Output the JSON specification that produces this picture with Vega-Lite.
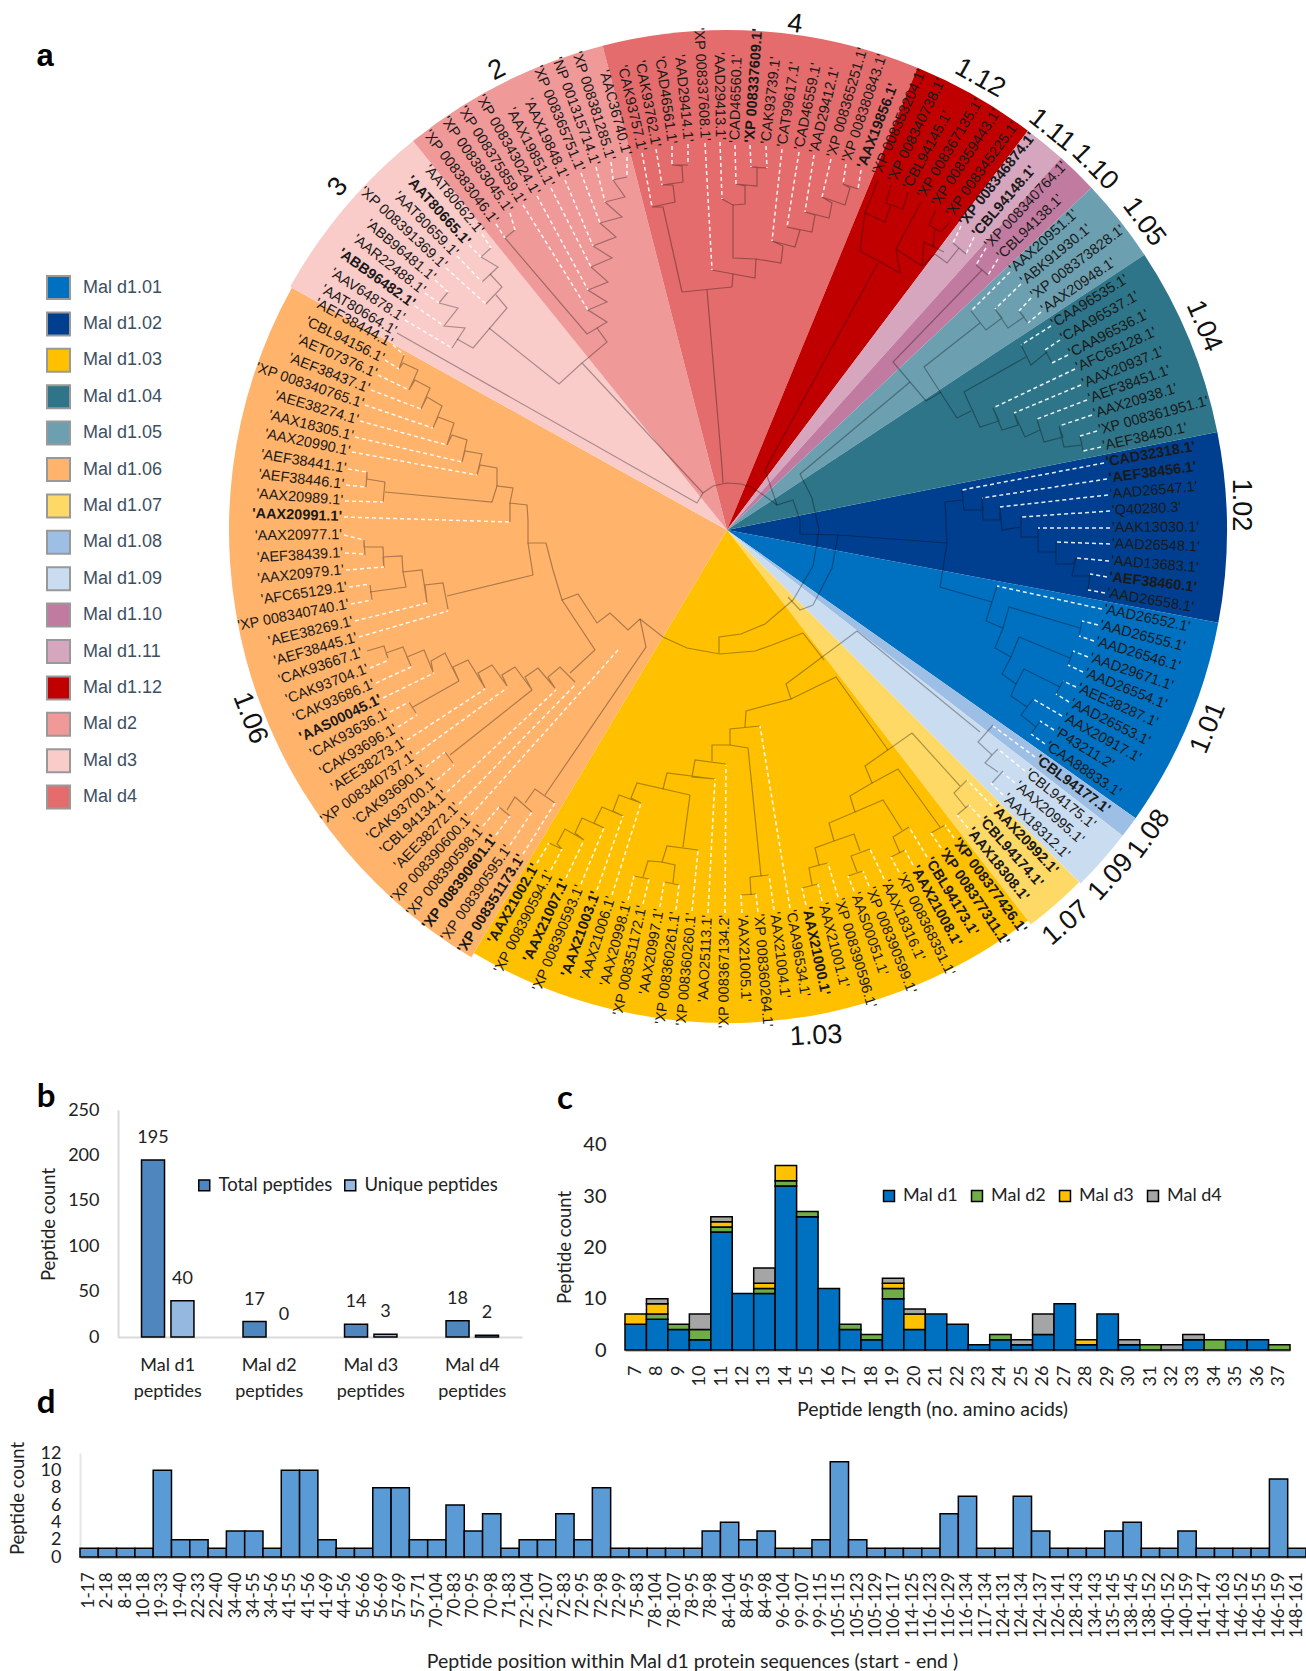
{"$schema":"https://vega.github.io/schema/vega-lite/v6.json","padding":0,"background":"white","config":{"view":{"stroke":null},"font":"Lato"},
"datasets":{
"wedges":[{"w":"Mal d1.02","x":727,"y":530,"a":78.7,"c":100.7,"r":500},{"w":"Mal d1.01","x":727,"y":530,"a":100.7,"c":125.2,"r":500},{"w":"Mal d1.08","x":727,"y":530,"a":125.2,"c":127.7,"r":500},{"w":"Mal d1.09","x":727,"y":530,"a":127.7,"c":135,"r":500},{"w":"Mal d1.07","x":727,"y":530,"a":135,"c":142.4,"r":498},{"w":"Mal d1.03","x":727,"y":530,"a":142.4,"c":210.9,"r":493},{"w":"Mal d1.06","x":727,"y":530,"a":210.9,"c":299.1,"r":498},{"w":"Mal d3","x":727,"y":530,"a":299.1,"c":321.1,"r":500},{"w":"Mal d2","x":727,"y":530,"a":321.1,"c":345.6,"r":500},{"w":"Mal d4","x":727,"y":530,"a":-14.4,"c":22.4,"r":500},{"w":"Mal d1.12","x":727,"y":530,"a":22.4,"c":37,"r":500},{"w":"Mal d1.11","x":727,"y":530,"a":37,"c":41.9,"r":500},{"w":"Mal d1.10","x":727,"y":530,"a":41.9,"c":46.8,"r":500},{"w":"Mal d1.05","x":727,"y":530,"a":46.8,"c":56.6,"r":500},{"w":"Mal d1.04","x":727,"y":530,"a":56.6,"c":78.7,"r":500}],
"leaves":[
{"n":"'CAD32318.1'","b":1,"t":79.9,"x":1104,"y":463,"tx":962,"ty":490},{"n":"'AEF38456.1'","b":1,"t":82.3,"x":1107,"y":479,"tx":982,"ty":498},{"n":"'AAD26547.1'","t":84.8,"x":1108,"y":495,"tx":1000,"ty":507},{"n":"'Q40280.3'","t":87.2,"x":1110,"y":511,"tx":1021,"ty":517},{"n":"'AAK13030.1'","t":89.7,"x":1110,"y":528,"tx":1038,"ty":528},{"n":"'AAD26548.1'","t":92.1,"x":1110,"y":544,"tx":1056,"ty":542},{"n":"'AAD13683.1'","t":94.6,"x":1109,"y":561,"tx":1076,"ty":558},{"n":"'AEF38460.1'","b":1,"t":97,"x":1107,"y":577,"tx":1090,"ty":574},{"n":"'AAD26558.1'","t":99.5,"x":1105,"y":593,"tx":1088,"ty":590},
{"n":"'AAD26552.1'","t":101.9,"x":1102,"y":609,"tx":997,"ty":586},{"n":"'AAD26555.1'","t":104.4,"x":1098,"y":625,"tx":1082,"ty":621},{"n":"'AAD26546.1'","t":106.8,"x":1094,"y":641,"tx":1079,"ty":636},{"n":"'AAD29671.1'","t":109.3,"x":1088,"y":657,"tx":1073,"ty":651},{"n":"'AAD26554.1'","t":111.7,"x":1083,"y":672,"tx":1068,"ty":665},{"n":"'AEE38287.1'","t":114.2,"x":1076,"y":687,"tx":1063,"ty":681},{"n":"'AAD26553.1'","t":116.6,"x":1069,"y":702,"tx":1056,"ty":694},{"n":"'AAX20917.1'","t":119,"x":1062,"y":716,"tx":1033,"ty":699},{"n":"'P43211.2'","t":121.5,"x":1054,"y":730,"tx":1040,"ty":721},{"n":"'CAA88833.1'","t":123.9,"x":1045,"y":744,"tx":1031,"ty":734},
{"n":"'CBL94177.1'","b":1,"t":126.4,"x":1035,"y":757,"tx":993,"ty":726},{"n":"'CBL94175.1'","t":128.9,"x":1025,"y":771,"tx":998,"ty":749},{"n":"'AAX20995.1'","t":131.3,"x":1015,"y":783,"tx":1003,"ty":773},{"n":"'AAX18312.1'","t":133.8,"x":1003,"y":795,"tx":991,"ty":783},
{"n":"'AAX20992.1'","b":1,"t":136.2,"x":992,"y":806,"tx":967,"ty":780},{"n":"'CBL94174.1'","b":1,"t":138.6,"x":980,"y":817,"tx":969,"ty":805},{"n":"'AAX18308.1'","b":1,"t":141.1,"x":968,"y":828,"tx":957,"ty":815},
{"n":"'XP 008377426.1'","b":1,"t":143.6,"x":954,"y":838,"tx":945,"ty":825},{"n":"'XP 008377311.1'","b":1,"t":146,"x":941,"y":848,"tx":931,"ty":833},{"n":"'CBL94173.1'","b":1,"t":148.5,"x":927,"y":857,"tx":909,"ty":827},{"n":"'AAX21008.1'","b":1,"t":150.9,"x":913,"y":865,"tx":905,"ty":850},{"n":"'XP 008368351.1'","t":153.4,"x":899,"y":872,"tx":891,"ty":857},{"n":"'AAX18316.1'","t":155.8,"x":884,"y":879,"tx":870,"ty":849},{"n":"'XP 008390599.1'","t":158.3,"x":869,"y":886,"tx":863,"ty":871},{"n":"'AAS00051.1'","t":160.7,"x":854,"y":891,"tx":848,"ty":876},{"n":"'XP 008390596.1'","t":163.2,"x":838,"y":897,"tx":828,"ty":863},{"n":"'AAX21001.1'","t":165.6,"x":822,"y":901,"tx":818,"ty":884},{"n":"'AAX21000.1'","b":1,"t":168.1,"x":806,"y":905,"tx":802,"ty":888},{"n":"'CAA96534.1'","t":170.5,"x":790,"y":908,"tx":760,"ty":726},{"n":"'AAX21004.1'","t":173,"x":774,"y":910,"tx":769,"ty":875},{"n":"'XP 008360264.1'","t":175.4,"x":758,"y":912,"tx":756,"ty":894},{"n":"'AAX21005.1'","t":177.8,"x":742,"y":913,"tx":741,"ty":895},{"n":"'XP 008367134.2'","t":180.3,"x":725,"y":913,"tx":726,"ty":765},{"n":"'AAO25113.1'","t":182.8,"x":708,"y":913,"tx":715,"ty":779},{"n":"'XP 008360260.1'","t":185.2,"x":692,"y":911,"tx":698,"ty":850},{"n":"'XP 008360261.1'","t":187.7,"x":676,"y":910,"tx":679,"ty":885},{"n":"'AAX20997.1'","t":190.1,"x":660,"y":907,"tx":664,"ty":882},{"n":"'XP 008351172.1'","t":192.6,"x":643,"y":904,"tx":649,"ty":879},{"n":"'AAX20998.1'","t":195,"x":628,"y":900,"tx":634,"ty":876},{"n":"'AAX21006.1'","t":197.5,"x":612,"y":895,"tx":641,"ty":803},{"n":"'AAX21003.1'","b":1,"t":199.9,"x":597,"y":890,"tx":623,"ty":816},{"n":"'XP 008390593.1'","t":202.4,"x":581,"y":884,"tx":604,"ty":828},{"n":"'AAX21007.1'","b":1,"t":204.8,"x":566,"y":878,"tx":584,"ty":840},{"n":"'XP 008390594.1'","t":207.3,"x":551,"y":870,"tx":562,"ty":849},{"n":"'AAX21002.1'","b":1,"t":209.7,"x":537,"y":863,"tx":549,"ty":843},
{"n":"'XP 008351173.1'","b":1,"t":212.2,"x":523,"y":854,"tx":555,"ty":803},{"n":"'XP 008390595.1'","t":214.6,"x":510,"y":845,"tx":532,"ty":812},{"n":"'XP 008390601.1'","b":1,"t":217.1,"x":496,"y":835,"tx":510,"ty":816},{"n":"'XP 008390598.1'","t":219.5,"x":483,"y":826,"tx":499,"ty":807},{"n":"'XP 008390600.1'","t":222,"x":471,"y":815,"tx":619,"ty":649},{"n":"'AEE38272.1'","t":224.4,"x":459,"y":804,"tx":576,"ty":684},{"n":"'CBL94134.1'","t":226.9,"x":447,"y":792,"tx":556,"ty":690},{"n":"'CAK93700.1'","t":229.3,"x":437,"y":780,"tx":454,"ty":765},{"n":"'CAK93690.1'","t":231.8,"x":426,"y":767,"tx":445,"ty":752},{"n":"'XP 008340737.1'","t":234.2,"x":416,"y":754,"tx":507,"ty":688},{"n":"'AEE38273.1'","t":236.7,"x":407,"y":740,"tx":485,"ty":689},{"n":"'CAK93696.1'","t":239.1,"x":398,"y":727,"tx":417,"ty":715},{"n":"'CAK93636.1'","t":241.6,"x":390,"y":712,"tx":409,"ty":702},{"n":"'AAS00045.1'","b":1,"t":244,"x":383,"y":698,"tx":434,"ty":673},{"n":"'CAK93686.1'","t":246.5,"x":376,"y":683,"tx":411,"ty":667},{"n":"'CAK93704.1'","t":248.9,"x":370,"y":668,"tx":389,"ty":660},{"n":"'CAK93667.1'","t":251.4,"x":364,"y":652},{"n":"'AEF38445.1'","t":253.8,"x":359,"y":637,"tx":448,"ty":611},{"n":"'AEE38269.1'","t":256.3,"x":355,"y":621,"tx":427,"ty":603},{"n":"'XP 008340740.1'","t":258.8,"x":351,"y":604,"tx":372,"ty":600},{"n":"'AFC65129.1'","t":261.4,"x":349,"y":587,"tx":370,"ty":584},{"n":"'AAX20979.1'","t":264,"x":346,"y":570,"tx":384,"ty":567},{"n":"'AEF38439.1'","t":266.6,"x":345,"y":553,"tx":365,"ty":554},{"n":"'AAX20977.1'","t":269.2,"x":344,"y":535,"tx":364,"ty":540},{"n":"'AAX20991.1'","b":1,"t":271.9,"x":344,"y":517,"tx":510,"ty":522},{"n":"'AAX20989.1'","t":274.3,"x":345,"y":501,"tx":383,"ty":502},{"n":"'AEF38446.1'","t":276.8,"x":346,"y":485,"tx":366,"ty":487},{"n":"'AEF38441.1'","t":279.2,"x":348,"y":469,"tx":367,"ty":472},{"n":"'AAX20990.1'","t":281.7,"x":352,"y":452,"tx":477,"ty":475},{"n":"'AAX18305.1'","t":284.1,"x":355,"y":437,"tx":462,"ty":462},{"n":"'AEE38274.1'","t":286.5,"x":360,"y":421,"tx":447,"ty":445},{"n":"'XP 008340765.1'","t":289,"x":365,"y":405,"tx":433,"ty":428},{"n":"'AEF38437.1'","t":291.4,"x":371,"y":390,"tx":421,"ty":409},{"n":"'AET07376.1'","t":293.9,"x":378,"y":375,"tx":409,"ty":390},{"n":"'CBL94156.1'","t":296.3,"x":385,"y":360,"tx":399,"ty":369},{"n":"'AEF38444.1'","t":298.8,"x":393,"y":345,"tx":404,"ty":355},
{"n":"'AAT80664.1'","t":300.6,"x":397,"y":333},{"n":"'AAV64878.1'","t":303.1,"x":405,"y":320,"tx":452,"ty":348},{"n":"'ABB96482.1'","b":1,"t":305.6,"x":415,"y":306,"tx":444,"ty":326},{"n":"'AAR22488.1'","t":308,"x":425,"y":293,"tx":439,"ty":303},{"n":"'ABB96481.1'","t":310.4,"x":435,"y":280,"tx":448,"ty":292},{"n":"'XP 008391369.1'","t":312.9,"x":446,"y":268,"tx":486,"ty":304},{"n":"'AAT80659.1'","t":315.3,"x":457,"y":256,"tx":482,"ty":282},{"n":"'AAT80665.1'","b":1,"t":317.8,"x":469,"y":245,"tx":481,"ty":257},{"n":"'AAT80662.1'","t":320.2,"x":482,"y":234,"tx":491,"ty":248},
{"n":"'XP 008383046.1'","t":322.8,"x":496,"y":224,"tx":505,"ty":238},{"n":"'XP 008383045.1'","t":325.2,"x":510,"y":213,"tx":515,"ty":230},{"n":"'XP 008375859.1'","t":327.7,"x":523,"y":205,"tx":588,"ty":310},{"n":"'XP 008343024.1'","t":330.1,"x":537,"y":196,"tx":588,"ty":290},{"n":"'AAX19851.1'","t":332.6,"x":551,"y":188,"tx":591,"ty":267},{"n":"'AAX19848.1'","t":335,"x":565,"y":180,"tx":593,"ty":246},{"n":"'XP 008365751.1'","t":337.5,"x":581,"y":173,"tx":600,"ty":223},{"n":"'NP 001315714.1'","t":339.9,"x":596,"y":167,"tx":605,"ty":202},{"n":"'XP 008381285.1'","t":342.4,"x":611,"y":162,"tx":613,"ty":180},{"n":"'AAC36740.1'","t":344.8,"x":627,"y":157,"tx":627,"ty":177},
{"n":"'CAK93757.1'","t":346.9,"x":642,"y":153,"tx":652,"ty":207},{"n":"'CAK93762.1'","t":349.3,"x":656,"y":149,"tx":662,"ty":185},{"n":"'CAD46561.1'","t":351.8,"x":672,"y":146,"tx":672,"ty":165},{"n":"'AAD29414.1'","t":354.2,"x":688,"y":144,"tx":688,"ty":165},{"n":"'XP 008337608.1'","t":356.7,"x":705,"y":143,"tx":712,"ty":270},{"n":"'AAD29413.1'","t":359.1,"x":720,"y":142,"tx":722,"ty":199},{"n":"'CAD46560.1'","t":1.6,"x":735,"y":145,"tx":736,"ty":184},{"n":"'XP 008337609.1'","b":1,"t":4,"x":750,"y":145,"tx":751,"ty":167},{"n":"'CAK93739.1'","t":6.5,"x":766,"y":146,"tx":767,"ty":168},{"n":"'CAT99617.1'","t":8.9,"x":782,"y":149,"tx":772,"ty":241},{"n":"'CAD46559.1'","t":11.4,"x":799,"y":152,"tx":787,"ty":227},{"n":"'AAD29412.1'","t":13.8,"x":814,"y":155,"tx":805,"ty":212},{"n":"'XP 008365251.1'","t":16.3,"x":831,"y":159,"tx":822,"ty":197},{"n":"'XP 008380843.1'","t":18.7,"x":846,"y":164,"tx":843,"ty":184},{"n":"'AAX19856.1'","b":1,"t":21.2,"x":861,"y":170,"tx":858,"ty":189},
{"n":"'XP 008353204.1'","t":23.6,"x":876,"y":176},{"n":"'XP 008340738.1'","t":26.1,"x":891,"y":183},{"n":"'CBL94145.1'","t":28.5,"x":906,"y":190},{"n":"'XP 008367135.1'","t":31,"x":920,"y":199},{"n":"'XP 008359443.1'","t":33.4,"x":934,"y":207},{"n":"'XP 008345225.1'","t":35.9,"x":948,"y":217},
{"n":"'XP 008346874.1'","b":1,"t":38.3,"x":961,"y":226,"tx":953,"ty":243},{"n":"'CBL94148.1'","b":1,"t":40.7,"x":974,"y":237,"tx":966,"ty":254},{"n":"'XP 008340764.1'","t":43.2,"x":986,"y":248,"tx":976,"ty":265},{"n":"'CBL94138.1'","t":45.6,"x":998,"y":259,"tx":988,"ty":275},
{"n":"'AAX20951.1'","t":48.1,"x":1010,"y":272,"tx":971,"ty":311},{"n":"'ABK91930.1'","t":50.5,"x":1021,"y":284,"tx":995,"ty":309},{"n":"'XP 008373828.1'","t":53,"x":1031,"y":298,"tx":1019,"ty":311},{"n":"'AAX20948.1'","t":55.4,"x":1041,"y":312,"tx":1028,"ty":323},
{"n":"'CAA96535.1'","t":57.9,"x":1051,"y":326,"tx":1021,"ty":345},{"n":"'CAA96537.1'","t":60.3,"x":1060,"y":340,"tx":1045,"ty":350},{"n":"'CAA96536.1'","t":62.8,"x":1068,"y":355,"tx":1052,"ty":363},{"n":"'AFC65128.1'","t":65.2,"x":1075,"y":369,"tx":993,"ty":408},{"n":"'AAX20937.1'","t":67.7,"x":1081,"y":385,"tx":1014,"ty":413},{"n":"'AEF38451.1'","t":70.1,"x":1087,"y":400,"tx":1037,"ty":419},{"n":"'AAX20938.1'","t":72.6,"x":1092,"y":415,"tx":1059,"ty":426},{"n":"'XP 008361951.1'","t":75,"x":1097,"y":431,"tx":1080,"ty":436},{"n":"'AEF38450.1'","t":77.5,"x":1101,"y":447,"tx":1083,"ty":451}],
"groups":[{"n":"4","t":7.7,"x":795,"y":24},{"n":"1.12","t":29.2,"x":980,"y":78},{"n":"1.11","t":39,"x":1052,"y":130},{"n":"1.10","t":45.4,"x":1095,"y":167},{"n":"1.05","t":53.6,"x":1144,"y":222},{"n":"1.04","t":66.8,"x":1204,"y":326},{"n":"1.02","t":90,"x":1241,"y":505},{"n":"1.01","t":112.4,"x":1208,"y":728},{"n":"1.08","t":125.8,"x":1149,"y":834},{"n":"1.09","t":132,"x":1111,"y":877},{"n":"1.07","t":139,"x":1066,"y":923},{"n":"1.03","t":177,"x":816,"y":1036},{"n":"1.06","t":248.5,"x":250,"y":718},{"n":"3","t":311.4,"x":338,"y":187},{"n":"2","t":333.4,"x":497,"y":70}],
"tree":[
{"b":1,"x":491,"y":248},{"b":1,"x":481,"y":257},{"b":1,"x":498,"y":267},{"b":1,"x":482,"y":282},
{"b":2,"x":490,"y":274},{"b":2,"x":502,"y":287},{"b":2,"x":486,"y":304},
{"b":3,"x":448,"y":292},{"b":3,"x":439,"y":303},{"b":3,"x":458,"y":308},{"b":3,"x":444,"y":326},{"b":3,"x":465,"y":328},{"b":3,"x":452,"y":348},
{"b":4,"x":457,"y":339},{"b":4,"x":473,"y":348},{"b":4,"x":507,"y":308},{"b":4,"x":496,"y":295},
{"b":5,"x":489,"y":328},{"b":5,"x":559,"y":384},{"b":5,"x":582,"y":363},
{"b":6,"x":515,"y":230},{"b":6,"x":505,"y":238},{"b":6,"x":587,"y":334},{"b":6,"x":597,"y":328},{"b":6,"x":607,"y":342},{"b":6,"x":582,"y":363},{"b":6,"x":703,"y":493},
{"b":7,"x":627,"y":177},{"b":7,"x":613,"y":180},{"b":7,"x":625,"y":197},{"b":7,"x":605,"y":202},{"b":7,"x":622,"y":217},{"b":7,"x":600,"y":223},{"b":7,"x":616,"y":237},{"b":7,"x":593,"y":246},{"b":7,"x":612,"y":258},{"b":7,"x":591,"y":267},{"b":7,"x":608,"y":282},{"b":7,"x":588,"y":290},{"b":7,"x":607,"y":302},{"b":7,"x":588,"y":310},{"b":7,"x":607,"y":322},{"b":7,"x":597,"y":328},
{"b":8,"x":397,"y":333},{"b":8,"x":697,"y":503},{"b":8,"x":703,"y":493},{"b":8,"x":713,"y":486},{"b":8,"x":727,"y":483},{"b":8,"x":741,"y":484},{"b":8,"x":751,"y":487},{"b":8,"x":762,"y":494},{"b":8,"x":777,"y":505},{"b":8,"x":793,"y":500},{"b":8,"x":800,"y":520},{"b":8,"x":800,"y":534},{"b":8,"x":838,"y":535},{"b":8,"x":947,"y":543},
{"b":9,"x":765,"y":470},{"b":9,"x":777,"y":505},
{"b":10,"x":723,"y":483},{"b":10,"x":722,"y":467},{"b":10,"x":707,"y":290},
{"b":11,"x":682,"y":292},{"b":11,"x":732,"y":287},
{"b":12,"x":682,"y":292},{"b":12,"x":663,"y":207},{"b":12,"x":652,"y":207},{"b":12,"x":675,"y":202},{"b":12,"x":673,"y":185},{"b":12,"x":662,"y":185},{"b":12,"x":683,"y":182},{"b":12,"x":682,"y":166},{"b":12,"x":672,"y":165},{"b":12,"x":688,"y":165},
{"b":13,"x":712,"y":270},{"b":13,"x":755,"y":278},{"b":13,"x":756,"y":259},{"b":13,"x":733,"y":258},{"b":13,"x":733,"y":205},{"b":13,"x":722,"y":199},
{"b":14,"x":733,"y":205},{"b":14,"x":745,"y":204},{"b":14,"x":745,"y":186},{"b":14,"x":736,"y":184},{"b":14,"x":757,"y":186},{"b":14,"x":757,"y":167},{"b":14,"x":751,"y":167},{"b":14,"x":767,"y":168},
{"b":15,"x":756,"y":259},{"b":15,"x":781,"y":263},{"b":15,"x":783,"y":246},{"b":15,"x":772,"y":241},{"b":15,"x":795,"y":247},{"b":15,"x":800,"y":230},{"b":15,"x":787,"y":227},{"b":15,"x":812,"y":232},{"b":15,"x":815,"y":215},{"b":15,"x":805,"y":212},{"b":15,"x":829,"y":218},{"b":15,"x":832,"y":203},{"b":15,"x":822,"y":197},{"b":15,"x":845,"y":205},{"b":15,"x":850,"y":188},{"b":15,"x":843,"y":184},{"b":15,"x":858,"y":189},
{"b":16,"x":732,"y":287},{"b":16,"x":733,"y":274},
{"b":17,"x":765,"y":470},{"b":17,"x":878,"y":263},
{"b":18,"x":900,"y":273},{"b":18,"x":860,"y":251},{"b":18,"x":865,"y":213},{"b":18,"x":885,"y":222},{"b":18,"x":891,"y":205},
{"b":19,"x":865,"y":213},{"b":19,"x":878,"y":180},
{"b":20,"x":891,"y":185},{"b":20,"x":886,"y":203},{"b":20,"x":903,"y":209},{"b":20,"x":908,"y":192},
{"b":21,"x":900,"y":273},{"b":21,"x":896,"y":249},{"b":21,"x":921,"y":202},
{"b":22,"x":896,"y":249},{"b":22,"x":922,"y":266},{"b":22,"x":924,"y":242},{"b":22,"x":944,"y":252},
{"b":23,"x":933,"y":247},{"b":23,"x":935,"y":229},
{"b":24,"x":936,"y":210},{"b":24,"x":929,"y":225},{"b":24,"x":941,"y":232},{"b":24,"x":950,"y":222},
{"b":25,"x":922,"y":266},{"b":25,"x":935,"y":254},{"b":25,"x":947,"y":263},{"b":25,"x":959,"y":248},
{"b":26,"x":953,"y":243},{"b":26,"x":966,"y":254},
{"b":27,"x":982,"y":270},{"b":27,"x":893,"y":362},{"b":27,"x":926,"y":401},{"b":27,"x":941,"y":392},
{"b":28,"x":976,"y":265},{"b":28,"x":988,"y":275},
{"b":29,"x":800,"y":474},{"b":29,"x":910,"y":382},
{"b":30,"x":980,"y":323},{"b":30,"x":924,"y":367},{"b":30,"x":957,"y":418},{"b":30,"x":971,"y":411},
{"b":31,"x":1026,"y":357},{"b":31,"x":964,"y":392},{"b":31,"x":980,"y":427},{"b":31,"x":999,"y":421},{"b":31,"x":993,"y":408},{"b":31,"x":1002,"y":430},{"b":31,"x":1018,"y":425},{"b":31,"x":1014,"y":413},{"b":31,"x":1025,"y":437},{"b":31,"x":1040,"y":430},{"b":31,"x":1037,"y":419},{"b":31,"x":1044,"y":442},{"b":31,"x":1063,"y":437},{"b":31,"x":1059,"y":426},{"b":31,"x":1064,"y":447},{"b":31,"x":1082,"y":445},{"b":31,"x":1080,"y":436},{"b":31,"x":1083,"y":451},
{"b":32,"x":1021,"y":345},{"b":32,"x":1031,"y":365},{"b":32,"x":1047,"y":352},
{"b":33,"x":1045,"y":350},{"b":33,"x":1052,"y":363},
{"b":34,"x":971,"y":311},{"b":34,"x":986,"y":330},{"b":34,"x":1002,"y":318},{"b":34,"x":995,"y":309},{"b":34,"x":1008,"y":328},{"b":34,"x":1024,"y":317},{"b":34,"x":1019,"y":311},{"b":34,"x":1028,"y":323},
{"b":35,"x":945,"y":502},{"b":35,"x":963,"y":500},{"b":35,"x":962,"y":490},{"b":35,"x":964,"y":510},{"b":35,"x":983,"y":510},{"b":35,"x":982,"y":498},{"b":35,"x":983,"y":520},{"b":35,"x":1000,"y":520},{"b":35,"x":1000,"y":507},{"b":35,"x":1002,"y":530},{"b":35,"x":1021,"y":527},{"b":35,"x":1021,"y":517},{"b":35,"x":1021,"y":537},{"b":35,"x":1038,"y":537},{"b":35,"x":1038,"y":528},{"b":35,"x":1038,"y":552},{"b":35,"x":1056,"y":552},{"b":35,"x":1056,"y":542},{"b":35,"x":1056,"y":564},{"b":35,"x":1073,"y":564},{"b":35,"x":1076,"y":558},{"b":35,"x":1072,"y":576},{"b":35,"x":1090,"y":576},{"b":35,"x":1090,"y":574},{"b":35,"x":1088,"y":590},
{"b":36,"x":945,"y":502},{"b":36,"x":947,"y":543},{"b":36,"x":940,"y":587},{"b":36,"x":992,"y":602},
{"b":37,"x":997,"y":586},{"b":37,"x":986,"y":621},{"b":37,"x":1003,"y":628},{"b":37,"x":995,"y":648},{"b":37,"x":1011,"y":657},{"b":37,"x":1002,"y":674},{"b":37,"x":1016,"y":684},{"b":37,"x":1011,"y":696},{"b":37,"x":1027,"y":707},{"b":37,"x":1021,"y":715},{"b":37,"x":1036,"y":727},
{"b":38,"x":1003,"y":628},{"b":38,"x":1009,"y":607},{"b":38,"x":1080,"y":628},
{"b":39,"x":1011,"y":657},{"b":39,"x":1019,"y":637},{"b":39,"x":1070,"y":658},
{"b":40,"x":1016,"y":684},{"b":40,"x":1024,"y":669},{"b":40,"x":1060,"y":687},
{"b":41,"x":1027,"y":707},{"b":41,"x":1033,"y":699},
{"b":42,"x":1082,"y":621},{"b":42,"x":1079,"y":636},
{"b":43,"x":1073,"y":651},{"b":43,"x":1068,"y":665},
{"b":44,"x":1063,"y":681},{"b":44,"x":1056,"y":694},
{"b":45,"x":1040,"y":721},{"b":45,"x":1031,"y":734},
{"b":46,"x":800,"y":474},{"b":46,"x":812,"y":498},{"b":46,"x":819,"y":530},{"b":46,"x":813,"y":566},{"b":46,"x":793,"y":600},{"b":46,"x":765,"y":624},{"b":46,"x":741,"y":634},{"b":46,"x":719,"y":637},{"b":46,"x":719,"y":653},
{"b":47,"x":838,"y":535},{"b":47,"x":832,"y":568},{"b":47,"x":813,"y":605},{"b":47,"x":800,"y":610},{"b":47,"x":788,"y":597},
{"b":48,"x":803,"y":633},{"b":48,"x":772,"y":645},{"b":48,"x":755,"y":651},{"b":48,"x":720,"y":654},{"b":48,"x":687,"y":648},{"b":48,"x":663,"y":637},{"b":48,"x":640,"y":619},{"b":48,"x":628,"y":630},{"b":48,"x":610,"y":613},{"b":48,"x":597,"y":623},{"b":48,"x":578,"y":594},{"b":48,"x":562,"y":600},{"b":48,"x":553,"y":570},{"b":48,"x":546,"y":543},{"b":48,"x":528,"y":543},{"b":48,"x":528,"y":520},{"b":48,"x":527,"y":505},{"b":48,"x":510,"y":503},{"b":48,"x":513,"y":488},{"b":48,"x":497,"y":486},{"b":48,"x":492,"y":502},{"b":48,"x":385,"y":492},
{"b":49,"x":803,"y":633},{"b":49,"x":824,"y":660},
{"b":50,"x":857,"y":631},{"b":50,"x":786,"y":684},{"b":50,"x":791,"y":699},{"b":50,"x":746,"y":711},{"b":50,"x":745,"y":727},
{"b":51,"x":857,"y":631},{"b":51,"x":980,"y":732},
{"b":52,"x":993,"y":725},{"b":52,"x":978,"y":742},{"b":52,"x":992,"y":755},{"b":52,"x":998,"y":749},
{"b":53,"x":992,"y":755},{"b":53,"x":985,"y":763},{"b":53,"x":998,"y":772},
{"b":54,"x":1003,"y":771},{"b":54,"x":992,"y":783},
{"b":55,"x":791,"y":699},{"b":55,"x":836,"y":677},{"b":55,"x":888,"y":750},
{"b":56,"x":912,"y":733},{"b":56,"x":865,"y":766},{"b":56,"x":872,"y":783},{"b":56,"x":850,"y":796},{"b":56,"x":855,"y":812},{"b":56,"x":829,"y":823},{"b":56,"x":834,"y":841},{"b":56,"x":815,"y":848},{"b":56,"x":819,"y":865},{"b":56,"x":809,"y":868},{"b":56,"x":812,"y":885},
{"b":57,"x":818,"y":884},{"b":57,"x":802,"y":888},
{"b":58,"x":912,"y":733},{"b":58,"x":960,"y":786},
{"b":59,"x":967,"y":780},{"b":59,"x":954,"y":793},{"b":59,"x":966,"y":808},
{"b":60,"x":969,"y":805},{"b":60,"x":957,"y":815},
{"b":61,"x":872,"y":783},{"b":61,"x":898,"y":769},{"b":61,"x":940,"y":827},
{"b":62,"x":945,"y":825},{"b":62,"x":931,"y":833},
{"b":63,"x":855,"y":812},{"b":63,"x":883,"y":800},{"b":63,"x":902,"y":830},
{"b":64,"x":909,"y":827},{"b":64,"x":893,"y":837},{"b":64,"x":900,"y":853},
{"b":65,"x":905,"y":850},{"b":65,"x":891,"y":857},
{"b":66,"x":834,"y":841},{"b":66,"x":854,"y":834},{"b":66,"x":860,"y":851},
{"b":67,"x":870,"y":849},{"b":67,"x":851,"y":856},{"b":67,"x":857,"y":872},
{"b":68,"x":863,"y":871},{"b":68,"x":848,"y":876},
{"b":69,"x":819,"y":865},{"b":69,"x":828,"y":863},
{"b":70,"x":760,"y":726},{"b":70,"x":730,"y":729},{"b":70,"x":730,"y":745},{"b":70,"x":712,"y":745},{"b":70,"x":712,"y":761},
{"b":71,"x":726,"y":764},{"b":71,"x":695,"y":760},{"b":71,"x":692,"y":777},{"b":71,"x":715,"y":779},{"b":71,"x":667,"y":773},{"b":71,"x":663,"y":789},
{"b":72,"x":730,"y":745},{"b":72,"x":748,"y":748},{"b":72,"x":761,"y":876},
{"b":73,"x":750,"y":877},{"b":73,"x":769,"y":875},
{"b":74,"x":750,"y":877},{"b":74,"x":751,"y":895},
{"b":75,"x":741,"y":895},{"b":75,"x":756,"y":894},
{"b":76,"x":690,"y":795},{"b":76,"x":637,"y":783},{"b":76,"x":631,"y":798},{"b":76,"x":641,"y":803},{"b":76,"x":619,"y":795},{"b":76,"x":613,"y":811},{"b":76,"x":623,"y":816},{"b":76,"x":602,"y":807},{"b":76,"x":594,"y":823},{"b":76,"x":604,"y":828},{"b":76,"x":582,"y":818},{"b":76,"x":575,"y":833},{"b":76,"x":584,"y":840},{"b":76,"x":565,"y":829},{"b":76,"x":557,"y":844},{"b":76,"x":562,"y":849},{"b":76,"x":549,"y":843},
{"b":78,"x":690,"y":795},{"b":78,"x":683,"y":847},
{"b":79,"x":698,"y":850},{"b":79,"x":667,"y":846},{"b":79,"x":662,"y":862},{"b":79,"x":675,"y":865},{"b":79,"x":673,"y":883},
{"b":80,"x":679,"y":885},{"b":80,"x":665,"y":882},
{"b":81,"x":662,"y":862},{"b":81,"x":648,"y":861},{"b":81,"x":643,"y":877},
{"b":82,"x":649,"y":879},{"b":82,"x":634,"y":876},
{"b":84,"x":640,"y":619},{"b":84,"x":646,"y":647},{"b":84,"x":545,"y":795},
{"b":85,"x":555,"y":803},{"b":85,"x":535,"y":789},{"b":85,"x":525,"y":803},
{"b":86,"x":532,"y":812},{"b":86,"x":515,"y":797},{"b":86,"x":507,"y":810},
{"b":87,"x":510,"y":816},{"b":87,"x":499,"y":807},
{"b":88,"x":562,"y":600},{"b":88,"x":595,"y":650},{"b":88,"x":570,"y":673},
{"b":89,"x":575,"y":682},{"b":89,"x":560,"y":667},{"b":89,"x":548,"y":677},{"b":89,"x":555,"y":688},{"b":89,"x":538,"y":668},{"b":89,"x":525,"y":677},{"b":89,"x":532,"y":690},{"b":89,"x":515,"y":667},{"b":89,"x":502,"y":675},{"b":89,"x":507,"y":686},{"b":89,"x":492,"y":665},{"b":89,"x":478,"y":673},{"b":89,"x":485,"y":688},{"b":89,"x":468,"y":660},{"b":89,"x":453,"y":667},{"b":89,"x":459,"y":681},{"b":89,"x":445,"y":653},{"b":89,"x":431,"y":661},{"b":89,"x":433,"y":672},{"b":89,"x":424,"y":650},{"b":89,"x":407,"y":657},{"b":89,"x":411,"y":666},{"b":89,"x":403,"y":647},{"b":89,"x":386,"y":653},{"b":89,"x":388,"y":658},{"b":89,"x":384,"y":646},{"b":89,"x":367,"y":651},
{"b":90,"x":532,"y":690},{"b":90,"x":450,"y":755},
{"b":91,"x":445,"y":752},{"b":91,"x":453,"y":763},
{"b":92,"x":459,"y":681},{"b":92,"x":413,"y":707},
{"b":93,"x":409,"y":702},{"b":93,"x":416,"y":713},
{"b":94,"x":533,"y":575},{"b":94,"x":528,"y":543},
{"b":95,"x":533,"y":575},{"b":95,"x":447,"y":596},
{"b":96,"x":448,"y":609},{"b":96,"x":443,"y":583},{"b":96,"x":425,"y":585},{"b":96,"x":427,"y":603},{"b":96,"x":422,"y":570},{"b":96,"x":403,"y":572},{"b":96,"x":406,"y":587},{"b":96,"x":370,"y":592},
{"b":97,"x":403,"y":572},{"b":97,"x":402,"y":556},{"b":97,"x":383,"y":557},{"b":97,"x":384,"y":568},{"b":97,"x":383,"y":547},{"b":97,"x":364,"y":547},{"b":97,"x":364,"y":540},{"b":97,"x":365,"y":555},
{"b":98,"x":370,"y":585},{"b":98,"x":372,"y":600},
{"b":99,"x":497,"y":486},{"b":99,"x":497,"y":468},{"b":99,"x":480,"y":465},{"b":99,"x":477,"y":475},{"b":99,"x":482,"y":454},{"b":99,"x":465,"y":451},{"b":99,"x":462,"y":462},{"b":99,"x":467,"y":440},{"b":99,"x":452,"y":435},{"b":99,"x":447,"y":445},{"b":99,"x":454,"y":423},{"b":99,"x":438,"y":417},{"b":99,"x":433,"y":428},{"b":99,"x":442,"y":406},{"b":99,"x":427,"y":397},{"b":99,"x":421,"y":409},{"b":99,"x":430,"y":388},{"b":99,"x":415,"y":380},{"b":99,"x":409,"y":390},{"b":99,"x":418,"y":370},{"b":99,"x":403,"y":363},{"b":99,"x":399,"y":369},{"b":99,"x":404,"y":355},
{"b":100,"x":385,"y":482},{"b":100,"x":383,"y":502},
{"b":101,"x":385,"y":482},{"b":101,"x":367,"y":479},{"b":101,"x":367,"y":472},{"b":101,"x":366,"y":487},
{"b":102,"x":510,"y":503},{"b":102,"x":510,"y":522}],
"totals":[{"c":"Mal d1","s":"Total peptides","v":195},{"c":"Mal d1","s":"Unique peptides","v":40},{"c":"Mal d2","s":"Total peptides","v":17},{"c":"Mal d2","s":"Unique peptides","v":0},{"c":"Mal d3","s":"Total peptides","v":14},{"c":"Mal d3","s":"Unique peptides","v":3},{"c":"Mal d4","s":"Total peptides","v":18},{"c":"Mal d4","s":"Unique peptides","v":2}],
"lengths":[{"l":7,"s":"Mal d1","v":5},{"l":7,"s":"Mal d3","v":2},{"l":8,"s":"Mal d1","v":6},{"l":8,"s":"Mal d2","v":1},{"l":8,"s":"Mal d3","v":2},{"l":8,"s":"Mal d4","v":1},{"l":9,"s":"Mal d1","v":4},{"l":9,"s":"Mal d2","v":1},{"l":10,"s":"Mal d1","v":2},{"l":10,"s":"Mal d2","v":2},{"l":10,"s":"Mal d4","v":3},{"l":11,"s":"Mal d1","v":23},{"l":11,"s":"Mal d2","v":1},{"l":11,"s":"Mal d3","v":1},{"l":11,"s":"Mal d4","v":1},{"l":12,"s":"Mal d1","v":11},{"l":13,"s":"Mal d1","v":11},{"l":13,"s":"Mal d2","v":1},{"l":13,"s":"Mal d3","v":1},{"l":13,"s":"Mal d4","v":3},{"l":14,"s":"Mal d1","v":32},{"l":14,"s":"Mal d2","v":1},{"l":14,"s":"Mal d3","v":3},{"l":15,"s":"Mal d1","v":26},{"l":15,"s":"Mal d2","v":1},{"l":16,"s":"Mal d1","v":12},{"l":17,"s":"Mal d1","v":4},{"l":17,"s":"Mal d2","v":1},{"l":18,"s":"Mal d1","v":2},{"l":18,"s":"Mal d2","v":1},{"l":19,"s":"Mal d1","v":10},{"l":19,"s":"Mal d2","v":2},{"l":19,"s":"Mal d3","v":1},{"l":19,"s":"Mal d4","v":1},{"l":20,"s":"Mal d1","v":4},{"l":20,"s":"Mal d3","v":3},{"l":20,"s":"Mal d4","v":1},{"l":21,"s":"Mal d1","v":7},{"l":22,"s":"Mal d1","v":5},{"l":23,"s":"Mal d1","v":1},{"l":24,"s":"Mal d1","v":2},{"l":24,"s":"Mal d2","v":1},{"l":25,"s":"Mal d1","v":1},{"l":25,"s":"Mal d4","v":1},{"l":26,"s":"Mal d1","v":3},{"l":26,"s":"Mal d4","v":4},{"l":27,"s":"Mal d1","v":9},{"l":28,"s":"Mal d1","v":1},{"l":28,"s":"Mal d3","v":1},{"l":29,"s":"Mal d1","v":7},{"l":30,"s":"Mal d1","v":1},{"l":30,"s":"Mal d4","v":1},{"l":31,"s":"Mal d2","v":1},{"l":32,"s":"Mal d4","v":1},{"l":33,"s":"Mal d1","v":2},{"l":33,"s":"Mal d4","v":1},{"l":34,"s":"Mal d2","v":2},{"l":35,"s":"Mal d1","v":2},{"l":36,"s":"Mal d1","v":2},{"l":37,"s":"Mal d2","v":1}],
"positions":[{"p":"1-17","v":1},{"p":"2-18","v":1},{"p":"8-18","v":1},{"p":"10-18","v":1},{"p":"19-33","v":10},{"p":"19-40","v":2},{"p":"22-33","v":2},{"p":"22-40","v":1},{"p":"34-40","v":3},{"p":"34-55","v":3},{"p":"34-56","v":1},{"p":"41-55","v":10},{"p":"41-56","v":10},{"p":"41-69","v":2},{"p":"44-56","v":1},{"p":"56-66","v":1},{"p":"56-69","v":8},{"p":"57-69","v":8},{"p":"57-71","v":2},{"p":"70-104","v":2},{"p":"70-83","v":6},{"p":"70-95","v":3},{"p":"70-98","v":5},{"p":"71-83","v":1},{"p":"72-104","v":2},{"p":"72-107","v":2},{"p":"72-83","v":5},{"p":"72-95","v":2},{"p":"72-98","v":8},{"p":"72-99","v":1},{"p":"75-83","v":1},{"p":"78-104","v":1},{"p":"78-107","v":1},{"p":"78-95","v":1},{"p":"78-98","v":3},{"p":"84-104","v":4},{"p":"84-95","v":2},{"p":"84-98","v":3},{"p":"96-104","v":1},{"p":"99-107","v":1},{"p":"99-115","v":2},{"p":"105-115","v":11},{"p":"105-123","v":2},{"p":"105-129","v":1},{"p":"106-117","v":1},{"p":"114-125","v":1},{"p":"116-123","v":1},{"p":"116-129","v":5},{"p":"116-134","v":7},{"p":"117-134","v":1},{"p":"124-131","v":1},{"p":"124-134","v":7},{"p":"124-137","v":3},{"p":"126-141","v":1},{"p":"128-143","v":1},{"p":"134-143","v":1},{"p":"135-145","v":3},{"p":"138-145","v":4},{"p":"138-152","v":1},{"p":"140-152","v":1},{"p":"140-159","v":3},{"p":"141-147","v":1},{"p":"144-163","v":1},{"p":"146-152","v":1},{"p":"146-155","v":1},{"p":"146-159","v":9},{"p":"148-161","v":1}]
},
"spacing":0,
"resolve":{"scale":{"color":"independent"},"legend":{"color":"independent"}},
"vconcat":[
{"width":1306,"height":1081,
"encoding":{"x":{"field":"x","type":"quantitative","scale":{"domain":[0,1306]},"axis":null},"y":{"field":"y","type":"quantitative","scale":{"domain":[1081,0]},"axis":null}},
"layer":[
{"data":{"name":"wedges"},"mark":{"type":"arc"},"encoding":{"theta":{"field":"a","type":"quantitative","stack":null,"scale":{"domain":[0,360],"range":[0,6.283185]}},"theta2":{"field":"c"},"radius":{"field":"r","type":"quantitative","scale":{"domain":[0,500],"range":[0,500]}},"color":{"field":"w","type":"nominal","scale":{"domain":["Mal d1.01","Mal d1.02","Mal d1.03","Mal d1.04","Mal d1.05","Mal d1.06","Mal d1.07","Mal d1.08","Mal d1.09","Mal d1.10","Mal d1.11","Mal d1.12","Mal d2","Mal d3","Mal d4"],"range":["#0070C0","#003F8F","#FFC000","#2E7589","#6C9FB0","#FFB36B","#FFD966","#9DBFE6","#CADCF0","#C27BA0","#D5A6BD","#C00000","#F09999","#F9CBC9","#E46C6C"]},"legend":{"orient":"none","direction":"vertical","legendX":46,"legendY":275,"title":null,"padding":0,"symbolType":"square","symbolSize":529,"symbolStrokeColor":"#999999","symbolStrokeWidth":2,"symbolOpacity":1,"labelFont":"Liberation Sans","labelFontSize":18,"labelColor":"#3D4F63","labelOffset":12,"rowPadding":5.4}}}},
{"data":{"name":"tree"},"mark":{"type":"line","stroke":"#000000","strokeOpacity":0.32,"strokeWidth":1.2},"encoding":{"detail":{"field":"b"},"order":{"value":null}}},
{"data":{"name":"leaves"},"transform":[{"filter":"isValid(datum.tx)"}],"mark":{"type":"rule","stroke":"#FFFFFF","strokeWidth":1.5,"strokeDash":[4,3],"opacity":0.9},"encoding":{"x2":{"field":"tx"},"y2":{"field":"ty"}}},
{"data":{"name":"leaves"},"mark":{"type":"text","font":"Liberation Sans","fontSize":14.5,"fill":"#1A1A1A","baseline":"middle","angle":{"expr":"datum.t<180?datum.t-90:datum.t-270"},"align":{"expr":"datum.t<180?'left':'right'"},"dx":{"expr":"datum.t<180?2:-2"},"fontWeight":{"expr":"datum.b?'bold':'normal'"}},"encoding":{"text":{"field":"n"}}},
{"data":{"name":"groups"},"mark":{"type":"text","font":"Liberation Sans","fontSize":27,"fill":"#111111","baseline":"middle","align":"center","angle":{"expr":"datum.t>100&&datum.t<260?datum.t-180:datum.t"}},"encoding":{"text":{"field":"n"}}},
{"data":{"values":[{"l":"a","x":45,"y":57}]},"mark":{"type":"text","font":"Liberation Sans","fontSize":31,"fontWeight":"bold","fill":"#000000","align":"center","baseline":"middle"},"encoding":{"text":{"field":"l"}}}
]},
{"bounds":"flush","spacing":0,"resolve":{"scale":{"color":"independent"},"legend":{"color":"independent"}},"hconcat":[
{"width":118,"height":331,"data":{"values":[{"l":"b","x":46,"y":1098},{"l":"c","x":565,"y":1100},{"l":"d","x":46,"y":1404}]},"mark":{"type":"text","fontSize":33,"fontWeight":"bold","fill":"#000000","align":"center","baseline":"middle"},"encoding":{"x":{"field":"x","type":"quantitative","scale":{"domain":[0,118]},"axis":null},"y":{"field":"y","type":"quantitative","scale":{"domain":[1442,1111]},"axis":null},"text":{"field":"l"}}},
{"width":404,"height":227,"data":{"name":"totals"},
"encoding":{"x":{"field":"c","type":"nominal","scale":{"paddingInner":0.42},"axis":{"title":null,"labelAngle":0,"labelFontSize":18,"labelColor":"#222222","ticks":false,"domainColor":"#D9D9D9","domainWidth":2,"labelPadding":19,"labelLineHeight":26,"labelExpr":"[datum.label,'peptides']"}},"xOffset":{"field":"s","type":"nominal","scale":{"domain":["Total peptides","Unique peptides"]}},"y":{"field":"v","type":"quantitative","scale":{"domain":[0,250]},"axis":{"title":"Peptide count","titleFontSize":18.5,"titleFontWeight":"normal","titleColor":"#222222","titleX":-70,"titleY":114,"titleAnchor":"middle","titleBaseline":"middle","values":[0,50,100,150,200,250],"grid":false,"ticks":false,"labelFontSize":18,"labelColor":"#222222","labelPadding":19,"domainColor":"#D9D9D9","domainWidth":2}}},
"layer":[
{"transform":[{"filter":"datum.v>0"}],"mark":{"type":"bar","width":23,"stroke":"#000000","strokeWidth":1.5},"encoding":{"color":{"field":"s","type":"nominal","scale":{"domain":["Total peptides","Unique peptides"],"range":["#4F86BD","#95B8E0"]},"legend":{"orient":"none","legendX":77,"legendY":66,"direction":"horizontal","title":null,"padding":0,"symbolType":"square","symbolSize":120,"symbolStrokeColor":"#000000","symbolStrokeWidth":1.5,"symbolOpacity":1,"labelFontSize":18.5,"labelColor":"#222222","labelOffset":5,"columnPadding":8}}}},
{"mark":{"type":"text","fontSize":18,"fill":"#222222","baseline":"middle","dy":-22},"encoding":{"text":{"field":"v"}}}
]},
{"width":103,"height":240,"data":{"values":[]},"mark":"text"},
{"width":665,"height":240,"data":{"name":"lengths"},"mark":{"type":"bar","stroke":"#000000","strokeWidth":1.5},
"encoding":{"x":{"field":"l","type":"ordinal","scale":{"paddingInner":0,"paddingOuter":0},"axis":{"title":"Peptide length (no. amino acids)","titleFontSize":19.5,"titleFontWeight":"normal","titleColor":"#222222","titleX":307,"titleY":59,"titleAnchor":"middle","titleBaseline":"middle","labelAngle":-90,"labelFontSize":18,"labelColor":"#222222","ticks":false,"labelPadding":15,"domainColor":"#BFBFBF","domainWidth":3}},"y":{"field":"v","type":"quantitative","stack":"zero","scale":{"domain":[0,46.8]},"axis":{"title":"Peptide count","titleFontSize":18.5,"titleFontWeight":"normal","titleColor":"#222222","titleX":-61,"titleY":137,"titleAnchor":"middle","titleBaseline":"middle","values":[0,10,20,30,40],"grid":false,"ticks":false,"domain":false,"labelFontSize":20,"labelColor":"#222222","labelPadding":19}},"color":{"field":"s","type":"nominal","scale":{"domain":["Mal d1","Mal d2","Mal d3","Mal d4"],"range":["#0070C0","#70AD47","#FFC000","#A5A5A5"]},"legend":{"orient":"none","legendX":255,"legendY":77,"direction":"horizontal","title":null,"padding":0,"symbolType":"square","symbolSize":120,"symbolStrokeColor":"#000000","symbolStrokeWidth":1.5,"symbolOpacity":1,"labelFontSize":18,"labelColor":"#222222","labelOffset":5,"columnPadding":10}},"order":{"field":"s","sort":"ascending"}}}
]},
{"bounds":"flush","spacing":0,"hconcat":[
{"width":80,"height":104,"data":{"values":[]},"mark":"text"},
{"width":1226,"height":104,"data":{"name":"positions"},"mark":{"type":"bar","fill":"#5B9BD5","stroke":"#000000","strokeWidth":1.5},
"encoding":{"x":{"field":"p","type":"nominal","sort":null,"scale":{"paddingInner":0,"paddingOuter":0},"axis":{"title":"Peptide position within Mal d1 protein sequences (start - end )","titleFontSize":19.5,"titleFontWeight":"normal","titleColor":"#222222","titleX":612,"titleY":104,"titleAnchor":"middle","titleBaseline":"middle","labelAngle":-90,"labelFontSize":17,"labelColor":"#222222","labelOverlap":false,"ticks":false,"labelPadding":15,"domainColor":"#BFBFBF","domainWidth":3}},"y":{"field":"v","type":"quantitative","scale":{"domain":[0,12]},"axis":{"title":"Peptide count","titleFontSize":18.5,"titleFontWeight":"normal","titleColor":"#222222","titleX":-63,"titleY":45,"titleAnchor":"middle","titleBaseline":"middle","values":[0,2,4,6,8,10,12],"grid":false,"ticks":false,"labelOverlap":false,"labelFontSize":18,"labelColor":"#222222","labelPadding":19,"domainColor":"#E5E5E5","domainWidth":2}}}}
]}
]}
